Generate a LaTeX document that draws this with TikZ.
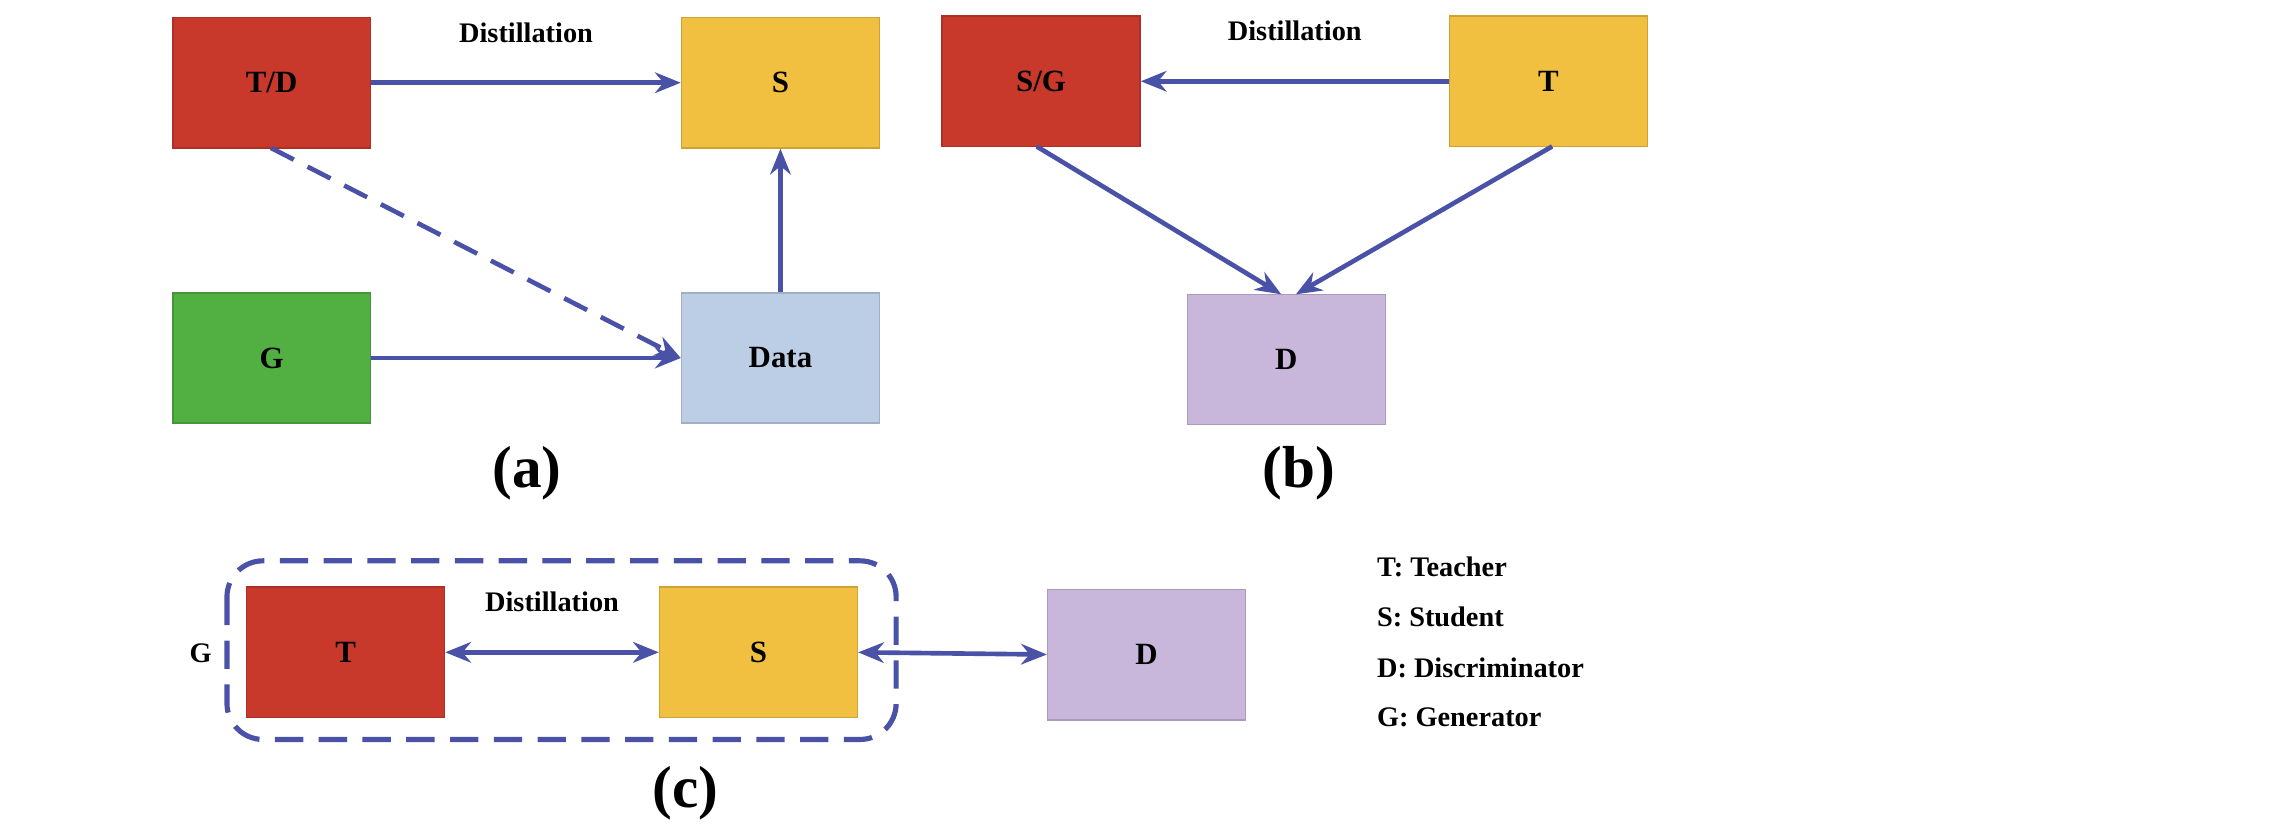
\documentclass[tikz,border=0pt]{standalone}
\usepackage{fontspec}
\setmainfont{Liberation Serif}
\usetikzlibrary{arrows.meta}
\definecolor{cred}{HTML}{C9392B}
\definecolor{cyel}{HTML}{F2C040}
\definecolor{cgrn}{HTML}{52B043}
\definecolor{cblu}{HTML}{BCCEE5}
\definecolor{cpur}{HTML}{C8B6DB}
\definecolor{carr}{HTML}{4A52A8}
\begin{document}
\begin{tikzpicture}[x=0.01cm,y=-0.01cm,
 box/.style={draw=#1!85!black,fill=#1,line width=0.3pt,minimum width=1.35cm,minimum height=0.89cm,inner sep=0,font=\bfseries\fontsize{6}{7}\selectfont},
 arr/.style={draw=carr,line width=0.9pt,-{Stealth[length=5pt,width=4pt]}},
 lab/.style={font=\bfseries\fontsize{5.5}{6.5}\selectfont},
 captxt/.style={font=\bfseries\fontsize{11.5}{13}\selectfont}]
\useasboundingbox (0,0) rectangle (1568,570);
\node[box=cred] (td) at (185.5,56.5) {T/D};
\node[box=cyel] (sa) at (533,56.5) {S};
\node[box=cgrn] (ga) at (185.5,244.5) {G};
\node[box=cblu] (data) at (533,244.5) {Data};
\draw[arr] (td.east) -- node[lab,above=4pt]{Distillation} (sa.west);
\draw[arr,dash pattern=on 5pt off 3pt] (185,101) -- (data.west);
\draw[arr] (ga.east) -- (data.west |- ga.east);
\draw[arr] (data.north) -- (sa.south);
\node[captxt] (capa) at (360,323) {(a)};
\node[box=cred] (sg) at (711,55.5) {S/G};
\node[box=cyel] (tb) at (1057.5,55.5) {T};
\node[box=cpur] (db) at (878.5,245.5) {D};
\draw[arr] (tb.west) -- node[lab,above=4pt]{Distillation} (sg.east);
\draw[arr] (708,100) -- (875,201);
\draw[arr] (1060,100) -- (885,201);
\node[captxt] (capb) at (887,323) {(b)};
\draw[carr,line width=1pt,dash pattern=on 5.5pt off 3pt,rounded corners=7pt] (155,383) rectangle (612,505);
\node[lab] (gl) at (137,446) {G};
\node[box=cred] (tc) at (236,445.5) {T};
\node[box=cyel] (sc) at (518,445.5) {S};
\node[box=cpur] (dc) at (783,447) {D};
\draw[arr,{Stealth[length=5pt,width=4pt]}-{Stealth[length=5pt,width=4pt]}] (tc.east) -- node[lab,above=4pt]{Distillation} (sc.west);
\draw[arr,{Stealth[length=5pt,width=4pt]}-{Stealth[length=5pt,width=4pt]}] (sc.east) -- (dc.west);
\node[captxt] (capc) at (468,542) {(c)};
\node[lab,anchor=west] (l1) at (928,387) {T: Teacher};
\node[lab,anchor=west] (l2) at (928,421) {S: Student};
\node[lab,anchor=west] (l3) at (928,456) {D: Discriminator};
\node[lab,anchor=west] (l4) at (928,490) {G: Generator};
\end{tikzpicture}
\end{document}
